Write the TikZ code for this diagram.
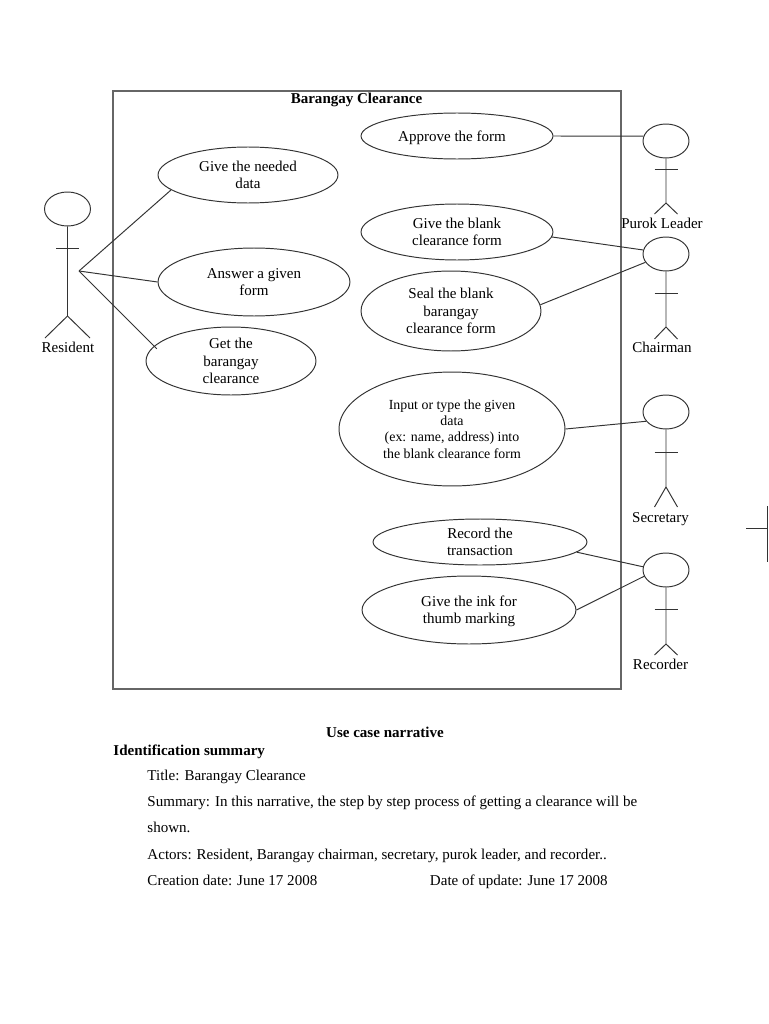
\documentclass[tikz,border=0pt]{standalone}
\usepackage{fontspec}
\setmainfont{Liberation Serif}
\usetikzlibrary{shapes.geometric,positioning}
\tikzset{
  usecase/.style n args={2}{draw=black!80,ellipse,inner sep=0pt,text depth=0pt,minimum width=#1*0.04cm,minimum height=#2*0.04cm,align=center,font=\fontsize{8.55}{9.8}\selectfont},
  actorhead/.style={draw=black!80,ellipse,inner sep=0pt,minimum width=0.92cm,minimum height=0.68cm},
  actorname/.style={text depth=0pt,inner sep=0pt,font=\fontsize{8.55}{9.8}\selectfont},
  link/.style={draw=black!80,line width=0.55pt},
  bodytext/.style={anchor=base west,inner sep=0pt,font=\fontsize{8.55}{9.8}\selectfont},
  headtext/.style={inner sep=0pt,font=\fontsize{8.55}{9.8}\selectfont\bfseries}
}
\begin{document}
\begin{tikzpicture}[x=0.02cm,y=-0.02cm,line width=0.55pt]
  \useasboundingbox (0,0) rectangle (768,1024);
  \fill[white] (0,0) rectangle (768,1024);
  \draw[black!60,line width=0.65pt] (113,91) rectangle (621,689);
  \node[headtext] (title) at (356.5,99.5) {Barangay Clearance};
  % use cases
  \node[usecase={90}{28}] (needed) at (248,175) {Give the needed\\data};
  \node[usecase={96}{34}] (answer) at (254,282) {Answer a given\\form};
  \node[usecase={85}{34}] (getit) at (231,361) {Get the\\barangay\\clearance};
  \node[usecase={96}{23}] (approve) at (457,136) {Approve the form\hspace*{0.2cm}};
  \node[usecase={96}{28}] (blank) at (457,232) {Give the blank\\clearance form};
  \node[usecase={90}{40}] (seal) at (451,311) {Seal the blank\\barangay\\clearance form};
  \node[usecase={113}{57},font=\fontsize{7.9}{9.2}\selectfont] (input) at (452,429) {Input or type the given\\data\\(ex: name, address) into\\the blank clearance form};
  \node[usecase={107}{23}] (record) at (480,542) {Record the\\transaction};
  \node[usecase={107}{34}] (ink) at (469,610) {Give the ink for\\thumb marking};
  % actors
  \foreach \name/\hx/\hy/\arm/\hip/\foot/\spread in {resident/67.5/209/248/316/338/22.5,purok/666/141/169/203/214/11.5,chairman/666/254/293/327/339/11.5,secretary/666/412/452/487/507/11.5,recorder/666/570/609/644/655/11.5} {
    \node[actorhead] (\name) at (\hx,\hy) {};
    \draw[link] (\name.south) -- (\hx,\hip) -- (\hx-\spread,\foot);
    \draw[link] (\hx,\hip) -- (\hx+\spread,\foot);
    \draw[link] (\hx-11.5,\arm) -- (\hx+11.5,\arm);
  }
  \node[actorname] (residentname) at (68,347.5) {Resident};
  \node[actorname] (purokname) at (662,223.5) {Purok Leader};
  \node[actorname] (chairmanname) at (662,347.5) {Chairman};
  \node[actorname] (secretaryname) at (660.5,517.5) {Secretary};
  \node[actorname] (recordername) at (660.5,664) {Recorder};
  % connectors
  \coordinate (hand) at (79,271);
  \draw[link] (hand) -- (needed.191);
  \draw[link] (hand) -- (answer.180);
  \draw[link,shorten >=-0.08cm] (hand) -- (getit.169);
  \draw[link] (approve.0) -- (purok.168);
  \draw[link] (blank.-3) -- (chairman.170);
  \draw[link] (seal.4) -- (chairman.202);
  \draw[link] (input.0) -- (secretary.205);
  \draw[link] (record.-6) -- (recorder.172);
  \draw[link] (ink.0) -- (recorder.196);
  % cut off figure at the edge
  \draw[link] (746,528.5) -- (767.6,528.5);
  \draw[link] (767.6,506) -- (767.6,562);
  % narrative
  \node[headtext] (narrative) at (385,732.5) {Use case narrative};
  \node[headtext,anchor=base west] (idsummary) at (113,755) {Identification summary};
  \node[bodytext] (titleline) at (147,780) {Title: Barangay Clearance};
  \node[bodytext] (summaryline) at (147,806) {Summary: In this narrative, the step by step process of getting a clearance will be};
  \node[bodytext] (shownline) at (147,832) {shown.};
  \node[bodytext] (actorsline) at (147,859) {Actors: Resident, Barangay chairman, secretary, purok leader, and recorder..};
  \node[bodytext] (createdline) at (147,885) {Creation date: June 17 2008};
  \node[bodytext] (updateline) at (429.5,885) {Date of update: June 17 2008};
\end{tikzpicture}
\end{document}
